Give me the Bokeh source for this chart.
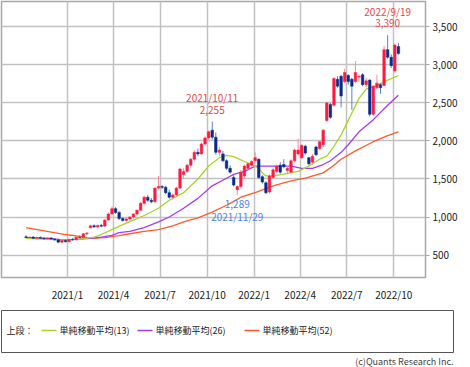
import pandas as pd
from bokeh.plotting import figure
from bokeh.models import ColumnDataSource, FixedTicker, NumeralTickFormatter, Range1d, Title
from bokeh.layouts import column
from bokeh.core.properties import value
from bokeh.embed import file_html
from bokeh.resources import INLINE

# ---------------- data (weekly candles, first week 2020-10-12) ----------------
first_week = "2020-10-12"
opens = [740, 730, 735, 720, 730, 720, 715, 725, 710, 700, 670, 690, 675, 705, 700, 735, 730, 780,
         860, 885, 870, 890, 880, 960, 1040, 1110, 1060, 980, 955, 975, 1000, 1040, 1090, 1180, 1260,
         1220, 1200, 1380, 1400, 1390, 1320, 1260, 1290, 1380, 1560, 1600, 1680, 1760, 1850, 1830,
         1960, 2040, 2140, 2050, 1850, 1830, 1740, 1640, 1520, 1360, 1400, 1540, 1640, 1680, 1740,
         1760, 1530, 1450, 1330, 1520, 1600, 1680, 1690, 1610, 1590, 1740, 1830, 1780, 1930, 1780,
         1720, 1920, 1900, 1950, 2270, 2480, 2470, 2810, 2850, 2780, 2860, 2810, 2780, 2840, 2870,
         2740, 2800, 2350, 2700, 2740, 2730, 3200, 3100, 2920, 3240]
highs = [760, 745, 750, 740, 745, 735, 730, 735, 720, 710, 700, 705, 715, 725, 740, 755, 790, 800,
         900, 905, 900, 910, 970, 1060, 1140, 1130, 1080, 1000, 990, 1010, 1050, 1100, 1200, 1280, 1290,
         1250, 1390, 1540, 1420, 1410, 1360, 1310, 1400, 1650, 1640, 1700, 1780, 1880, 1900, 1980,
         2060, 2140, 2255, 2110, 1920, 1870, 1760, 1680, 1560, 1420, 1620, 1690, 1720, 1750, 1850,
         1770, 1550, 1470, 1560, 1640, 1690, 1720, 1760, 1680, 1760, 1900, 2030, 1960, 1950, 1790,
         1830, 1940, 2000, 2160, 2520, 2500, 2840, 2850, 2870, 2950, 2880, 2830, 3050, 2880, 2890,
         2830, 2810, 2730, 2870, 2760, 3250, 3390, 3140, 3280, 3290]
lows = [725, 715, 710, 705, 715, 700, 700, 705, 690, 660, 655, 665, 670, 690, 695, 720, 725, 760,
        850, 860, 855, 865, 870, 950, 1030, 1040, 960, 940, 930, 950, 980, 1020, 1080, 1160, 1200,
        1180, 1190, 1360, 1370, 1300, 1240, 1230, 1270, 1370, 1500, 1580, 1650, 1740, 1800, 1820,
        1940, 2010, 2020, 1820, 1800, 1720, 1620, 1570, 1400, 1289, 1380, 1500, 1620, 1660, 1700,
        1500, 1440, 1300, 1310, 1500, 1580, 1570, 1640, 1560, 1580, 1720, 1800, 1760, 1820, 1680,
        1690, 1800, 1880, 1920, 2250, 2290, 2450, 2700, 2440, 2760, 2740, 2410, 2760, 2780, 2720,
        2700, 2320, 2330, 2680, 2620, 2720, 3080, 2960, 2900, 3130]
closes = [730, 735, 720, 730, 720, 715, 725, 710, 700, 670, 690, 675, 705, 700, 735, 730, 780, 790,
          885, 870, 890, 880, 960, 1040, 1110, 1060, 980, 955, 975, 1000, 1040, 1090, 1180, 1260, 1220,
          1200, 1380, 1400, 1390, 1320, 1260, 1290, 1380, 1630, 1600, 1680, 1760, 1850, 1830, 1960,
          2040, 2120, 2050, 1850, 1880, 1740, 1640, 1590, 1420, 1400, 1590, 1670, 1700, 1730, 1780,
          1520, 1460, 1320, 1540, 1620, 1670, 1590, 1660, 1640, 1740, 1880, 1880, 1940, 1840, 1700,
          1800, 1820, 1990, 2140, 2500, 2310, 2820, 2720, 2590, 2900, 2780, 2720, 2900, 2850, 2740,
          2790, 2350, 2720, 2760, 2700, 3200, 3100, 2990, 3260, 3150]

# moving averages (week index from first_week, value)
ma13_weeks = [0, 6, 11, 15, 19, 21, 24, 27, 30, 33, 37, 40, 44, 48, 51, 54, 56, 58, 61, 63, 65, 66,
              67, 69, 72, 76, 79, 82, 84, 86, 88, 90, 93, 95, 98, 101, 104]
ma13_vals = [720, 705, 695, 710, 735, 770, 835, 900, 960, 1020, 1115, 1220, 1320, 1500, 1670, 1780,
             1810, 1795, 1730, 1690, 1640, 1580, 1540, 1540, 1565, 1600, 1670, 1760, 1800, 1930,
             2080, 2270, 2560, 2680, 2730, 2800, 2860]
ma26_weeks = [0, 6, 11, 15, 18, 21, 24, 26, 29, 33, 37, 40, 44, 48, 52, 56, 58, 61, 64, 69, 74, 77,
              80, 83, 85, 88, 90, 93, 97, 101, 104]
ma26_vals = [730, 720, 700, 710, 720, 735, 760, 795, 810, 860, 935, 1000, 1115, 1245, 1410, 1510,
             1560, 1600, 1670, 1670, 1670, 1640, 1640, 1690, 1740, 1850, 1950, 2120, 2280, 2470, 2600]
ma52_weeks = [0, 11, 15, 18, 22, 26, 29, 33, 37, 41, 44, 48, 52, 56, 58, 60, 64, 69, 74, 78, 83, 86,
              88, 92, 97, 101, 104]
ma52_vals = [860, 770, 745, 720, 730, 755, 780, 810, 835, 885, 935, 990, 1065, 1155, 1205, 1260, 1320,
             1410, 1475, 1510, 1580, 1680, 1760, 1870, 1990, 2070, 2120]

ma_labels = ["単純移動平均(13)", "単純移動平均(26)", "単純移動平均(52)"]
legend_prefix = "上段："

y_ticks = [500, 1000, 1500, 2000, 2500, 3000, 3500]
x_tick_dates = ["2021-01-01", "2021-04-01", "2021-07-01", "2021-10-01",
                "2022-01-01", "2022-04-01", "2022-07-01", "2022-10-01"]
x_tick_labels = ["2021/1", "2021/4", "2021/7", "2021/10", "2022/1", "2022/4", "2022/7", "2022/10"]

ann_dates = ["2021-10-11", "2022-09-19", "2021-11-29"]
ann_prices = [2255, 3390, 1289]
ann_kind = ["high", "high", "low"]

copyright_text = "(c)Quants Research Inc."

# ---------------- styles ----------------
UP_BODY, UP_WICK = "#ff1a40", "#ff8a98"
DN_BODY, DN_WICK = "#0d2a8a", "#5b80d4"
MA_COLORS = ["#a8d42a", "#a33cf2", "#ff5a2c"]
GRID = "#c2c2c2"
FONT = "Noto Sans CJK JP"

t0 = pd.Timestamp(first_week)
dates = pd.date_range(t0, periods=len(opens), freq="7D")
week_ms = 7 * 24 * 3600 * 1000

up = [c >= o for o, c in zip(opens, closes)]
src = ColumnDataSource(dict(
    x=dates, o=opens, h=highs, l=lows, c=closes,
    top=[max(o, c) for o, c in zip(opens, closes)],
    bot=[min(o, c) for o, c in zip(opens, closes)],
    body=[UP_BODY if u else DN_BODY for u in up],
    wick=[UP_WICK if u else DN_WICK for u in up],
))

x_start = t0 - pd.Timedelta(days=48)
x_end = t0 + pd.Timedelta(days=781)

p = figure(width=454, frame_width=424, frame_height=276, x_axis_type="datetime",
           y_axis_location="right", x_range=Range1d(x_start, x_end), y_range=Range1d(205, 3833),
           toolbar_location=None, output_backend="svg", min_border=0, min_border_top=1,
           min_border_left=1, background_fill_color="white", border_fill_color="white")
p.outline_line_color = "#a8a8a8"
p.outline_line_width = 1.5

tick_ms = [pd.Timestamp(d).value // 10**6 for d in x_tick_dates]
p.xaxis.ticker = FixedTicker(ticks=tick_ms)
p.xaxis.major_label_overrides = {t: lab for t, lab in zip(tick_ms, x_tick_labels)}
p.xaxis.axis_line_color = None
p.xaxis.major_tick_line_color = None
p.xaxis.major_label_standoff = 3
p.xaxis.major_label_text_font = FONT
p.xaxis.major_label_text_font_size = "10px"
p.xaxis.major_label_text_color = "#222222"

p.yaxis.ticker = FixedTicker(ticks=y_ticks)
p.yaxis.formatter = NumeralTickFormatter(format="0,0")
p.yaxis.axis_line_color = None
p.yaxis.major_tick_in = 0
p.yaxis.major_tick_out = 4
p.yaxis.major_tick_line_color = "#a8a8a8"
p.yaxis.major_label_standoff = 3
p.yaxis.major_label_text_font = FONT
p.yaxis.major_label_text_font_size = "10px"
p.yaxis.major_label_text_color = "#222222"

p.xgrid.grid_line_color = GRID
p.ygrid.grid_line_color = GRID
p.xgrid.grid_line_width = 1.5
p.ygrid.grid_line_width = 1.5

# moving averages (drawn under candles)
for weeks, vals, col in [(ma52_weeks, ma52_vals, MA_COLORS[2]),
                         (ma26_weeks, ma26_vals, MA_COLORS[1]),
                         (ma13_weeks, ma13_vals, MA_COLORS[0])]:
    xs = [t0 + pd.Timedelta(weeks=w) for w in weeks]
    p.line(xs, vals, line_color=col, line_width=1.3)

p.segment(x0="x", y0="h", x1="x", y1="l", source=src, line_color="wick", line_width=1)
p.vbar(x="x", top="top", bottom="bot", width=0.72 * week_ms, source=src,
       fill_color="body", line_color="body", line_width=0.5)

# annotations
for d, v, k in zip(ann_dates, ann_prices, ann_kind):
    ts = pd.Timestamp(d)
    date_txt = f"{ts.year}/{ts.month}/{ts.day}"
    price_txt = f"{v:,}"
    if k == "high":
        col, offs = "#e5484d", (-12, -24)
    else:
        col, offs = "#4f84e6", (9, 21)
    p.text(x=[ts], y=[v], text=[price_txt], y_offset=offs[0], text_align="center",
           text_baseline="middle", text_color=col, text_font=value(FONT), text_font_size="10px")
    p.text(x=[ts], y=[v], text=[date_txt], y_offset=offs[1], text_align="center",
           text_baseline="middle", text_color=col, text_font=value(FONT), text_font_size="10px")

# ---------------- legend panel ----------------
LW, LH = 452, 42
leg = figure(width=454, frame_width=LW, frame_height=LH, x_range=Range1d(0, LW), y_range=Range1d(0, LH),
             toolbar_location=None, output_backend="svg", min_border=1, min_border_top=6,
             min_border_bottom=0)
leg.axis.visible = False
leg.grid.visible = False
leg.outline_line_color = "#555555"
leg.outline_line_width = 1
ymid = LH - 20
leg.text(x=[5], y=[ymid], text=[legend_prefix], text_baseline="middle", text_color="#222222",
         text_font=value(FONT), text_font_size="9px")
item_x0 = [40, 136, 243]
for xs0, lab, col in zip(item_x0, ma_labels, MA_COLORS):
    leg.segment(x0=[xs0], y0=[ymid], x1=[xs0 + 15], y1=[ymid], line_color=col, line_width=1.5)
    leg.text(x=[xs0 + 18], y=[ymid], text=[lab], text_baseline="middle", text_color="#222222",
             text_font=value(FONT), text_font_size="9px")
leg.add_layout(Title(text=copyright_text, align="right", text_font=FONT, text_font_size="9px",
                     text_font_style="normal", text_color="#444444", standoff=0), "below")

layout = column(p, leg, spacing=0)
open("out.html", "w").write(file_html(layout, INLINE))
